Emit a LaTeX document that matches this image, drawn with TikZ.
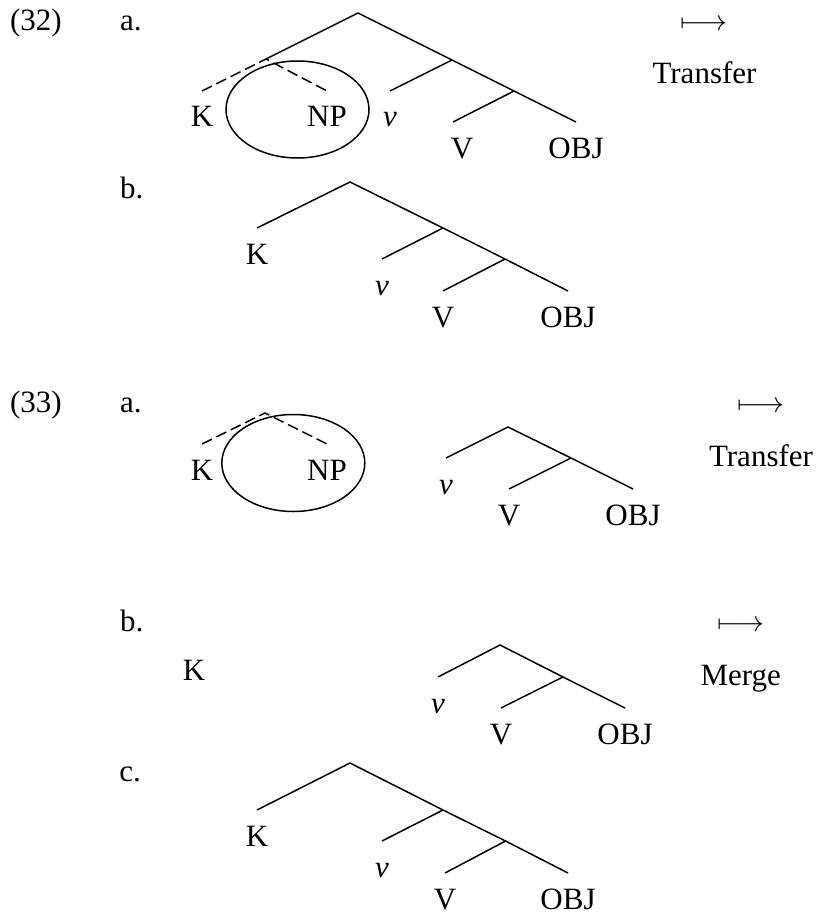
\RequirePackage{fix-cm}
\documentclass[tikz,border=0pt]{standalone}
\usepackage{fontspec}
\setmainfont{Liberation Serif}
\usetikzlibrary{shapes.geometric}
\begin{document}
\begin{tikzpicture}[x=1pt,y=-1pt,
  every node/.style={font=\fontsize{31}{37}\selectfont, inner sep=0pt, outer sep=0pt},
  leaf/.style={anchor=north, text height=21pt, text depth=0pt, inner ysep=15pt, inner xsep=0pt},
  lbl/.style={anchor=base west},
  wordlbl/.style={anchor=base},
  maparrow/.style={anchor=base, font=\fontsize{29}{35}\selectfont},
  branch/.style={line width=1.5pt},
  movedline/.style={line width=1.5pt, dash pattern=on 11pt off 5pt},
  ring/.style={ellipse, draw, line width=1.5pt, minimum width=143pt, minimum height=97pt, inner sep=0pt}]
\useasboundingbox (0,0) rectangle (815,923);

% ---------- (32a)
\node[lbl] (ex32) at (10,31) {(32)};
\node[lbl] (a32) at (120,31) {a.};
\coordinate (r1) at (358,13);
\coordinate (kn1) at (266,59);
\coordinate (p1) at (452,60);
\coordinate (q1) at (514,91);
\node[leaf] (K1) at (202,91) {K};
\node[leaf] (NP1) at (327,91) {NP};
\node[leaf] (v1) at (390,91) {\textit{v}};
\node[leaf] (V1) at (462,122) {V};
\node[leaf] (O1) at (576,122) {OBJ};
\draw[branch] (kn1) -- (r1) -- (p1) -- (q1) -- (O1.north);
\draw[branch] (p1) -- (v1.north);
\draw[branch] (q1) -- ([xshift=-9pt]V1.north);
\draw[movedline] (K1.north) -- (kn1) -- (NP1.north);
\node[ring] (e1) at (297.5,109.5) {};
\node[maparrow] (m1) at (704,30.5) {$\longmapsto$};
\node[wordlbl] (t1) at (704.5,83.3) {Transfer};

% ---------- (32b)
\node[lbl] (b32) at (120,198.3) {b.};
\coordinate (r2) at (350,182);
\coordinate (p2) at (443,228);
\coordinate (q2) at (505,259);
\node[leaf] (K2) at (257,228) {K};
\node[leaf] (v2) at (382,259) {\textit{v}};
\node[leaf] (V2) at (443,291) {V};
\node[leaf] (O2) at (568,291) {OBJ};
\draw[branch] (K2.north) -- (r2) -- (p2) -- (q2) -- (O2.north);
\draw[branch] (p2) -- (v2.north);
\draw[branch] (q2) -- (V2.north);

% ---------- (33a)
\node[lbl] (ex33) at (10,412) {(33)};
\node[lbl] (a33) at (120,412) {a.};
\coordinate (kn3) at (265,413);
\node[leaf] (K3) at (202,444) {K};
\node[leaf] (NP3) at (327,444) {NP};
\draw[movedline] (K3.north) -- (kn3) -- (NP3.north);
\node[ring] (e3) at (293.3,463) {};
\coordinate (r3) at (508,427);
\coordinate (p3) at (571,458);
\node[leaf] (v3) at (446,458) {\textit{v}};
\node[leaf] (V3) at (509,489) {V};
\node[leaf] (O3) at (633,489) {OBJ};
\draw[branch] (v3.north) -- (r3) -- (p3) -- (O3.north);
\draw[branch] (p3) -- (V3.north);
\node[maparrow] (m3) at (760.8,412) {$\longmapsto$};
\node[wordlbl] (t3) at (761,466.7) {Transfer};

% ---------- (33b)
\node[lbl] (b33) at (120,631.7) {b.};
\node[wordlbl] (K4) at (194,680) {K};
\coordinate (r4) at (500,645);
\coordinate (p4) at (563,677);
\node[leaf] (v4) at (438,677) {\textit{v}};
\node[leaf] (V4) at (501,708) {V};
\node[leaf] (O4) at (625,708) {OBJ};
\draw[branch] (v4.north) -- (r4) -- (p4) -- (O4.north);
\draw[branch] (p4) -- (V4.north);
\node[maparrow] (m4) at (740.8,631.7) {$\longmapsto$};
\node[wordlbl] (t4) at (740.8,685) {Merge};

% ---------- (33c)
\node[lbl] (c33) at (119.3,781) {c.};
\coordinate (r5) at (350,763);
\coordinate (p5) at (443,810);
\coordinate (q5) at (505.5,841);
\node[leaf] (K5) at (257,810) {K};
\node[leaf] (v5) at (382,841) {\textit{v}};
\node[leaf] (V5) at (445,873) {V};
\node[leaf] (O5) at (568,873) {OBJ};
\draw[branch] (K5.north) -- (r5) -- (p5) -- (q5) -- (O5.north);
\draw[branch] (p5) -- (v5.north);
\draw[branch] (q5) -- (V5.north);
\end{tikzpicture}
\end{document}
